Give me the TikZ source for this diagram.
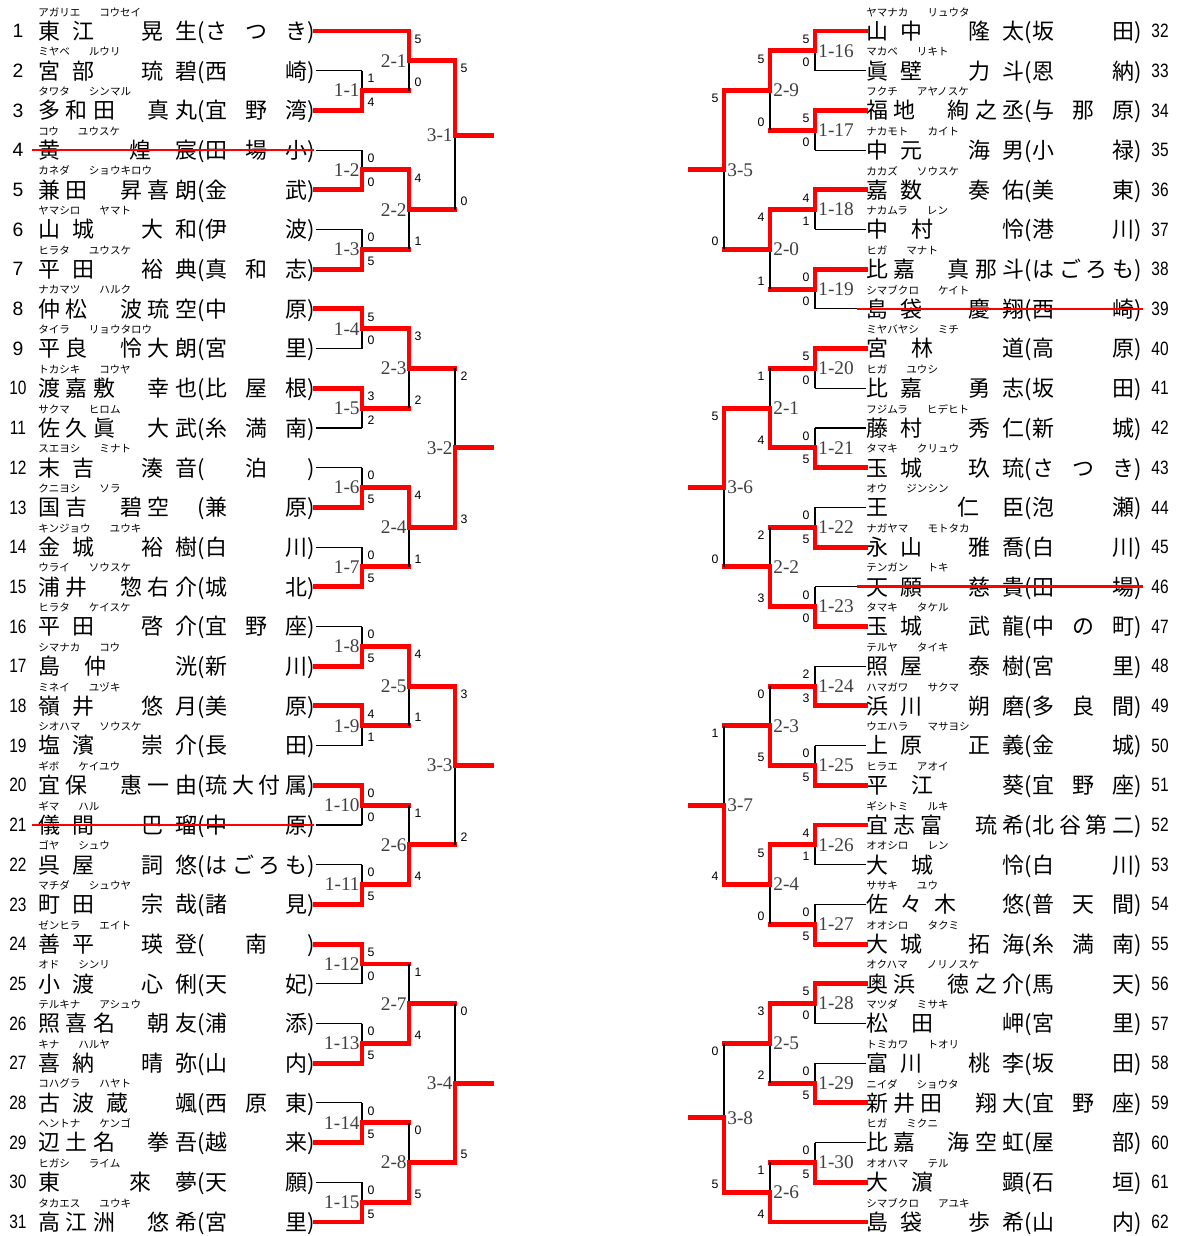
\documentclass[tikz,border=0pt]{standalone}
\usepackage{fontspec}
\usepackage{graphicx}
\setmainfont{Liberation Serif}
\newfontfamily\jpfont{Noto Sans CJK JP}
\newfontfamily\numfont{Liberation Sans}

\newdimen\pix \pix=0.02cm
% spread a row of characters evenly over a fixed width
\def\spreadfirst#1{#1\spreadrest}
\def\spreadrest#1{\ifx\relax#1\else\hfil#1\expandafter\spreadrest\fi}
\newcommand\spreadchars[2]{\hbox to #1\pix{\spreadfirst#2\relax}}
\newcommand\halfpar[1]{\hbox to 8\pix{\hss#1\hss}}
\newcommand\numbox[1]{\ifnum#1>9 \scalebox{0.8}[1]{#1}\else #1\fi}

% one entry: number, kana surname, kana given name, name, school
\newcommand\lplayer[5]{%
  \pgfmathsetmacro\yy{31+(#1-1)*39.7}
  \node[num] (n#1) at (18,\yy) {\numbox{#1}};
  \node[kana] (k#1) at (38,\yy-19) {#2\hspace{1.8em}#3};
  \node[entry] (p#1) at (38,\yy) {\spreadchars{159}{#4}\halfpar{(}\spreadchars{102}{#5}\halfpar{)}};
  \coordinate (e#1) at (p#1.east);
}
\newcommand\rplayer[5]{%
  \pgfmathsetmacro\yy{31+(#1-32)*39.7}
  \node[num] (n#1) at (1160,\yy) {\numbox{#1}};
  \node[kana] (k#1) at (866,\yy-19) {#2\hspace{1.8em}#3};
  \node[entry] (p#1) at (866,\yy) {\spreadchars{158}{#4}\halfpar{(}\spreadchars{102}{#5}\halfpar{)}};
  \coordinate (e#1) at (p#1.west);
}

% side settings: score offset, label offset, label anchor
\newcommand\sideL{\def\sx{9}\def\lx{-2}\def\lab{east}}
\newcommand\sideR{\def\sx{-9}\def\lx{3}\def\lab{west}}

% match: coord, label, top in, bottom in, top score, bottom score, winner t/b, style of loser's line
\newcommand\matchup[8]{%
  \if#7t\def\bw{#3}\def\bl{#4}\else\def\bw{#4}\def\bl{#3}\fi
  \draw[#8] (\bl) -- (\bl -| #1);
  \draw[lose] (\bl -| #1) -- (#1);
  \draw[win] (\bw) -| (#1);
  \path (#3 -| #1) ++(\sx,8) node[score] (s#1t) {#5};
  \path (#4 -| #1) ++(\sx,-8) node[score] (s#1b) {#6};
  \path (#1) ++(\lx,0) node[mlabel,anchor=\lab] (l#1) {#2};
}

\begin{document}
\begin{tikzpicture}[
    x=0.02cm, y=-0.02cm,
    num/.style={font=\numfont\fontsize{11pt}{11pt}\selectfont, inner sep=0pt},
    kana/.style={font=\jpfont\fontsize{6pt}{6pt}\selectfont, anchor=west, inner sep=0pt},
    entry/.style={font=\jpfont\fontsize{12.5pt}{12.5pt}\selectfont, anchor=west, inner sep=0pt, text height=10.5pt, text depth=1pt},
    score/.style={font=\numfont\fontsize{7pt}{7pt}\selectfont, inner sep=0pt},
    mlabel/.style={font=\fontsize{11pt}{11pt}\selectfont, inner sep=0pt, text=black!75},
    win/.style={draw=red, line width=2.8pt, line cap=rect},
    lose/.style={draw=black, line width=0.6pt},
    strike/.style={draw=red, line width=1.5pt}
  ]
  \useasboundingbox (0,0) rectangle (1178,1236);

  % entries, left block
  \lplayer{1}{アガリエ}{コウセイ}{東江　晃生}{さつき}
  \lplayer{2}{ミヤベ}{ルウリ}{宮部　琉碧}{西崎}
  \lplayer{3}{タワタ}{シンマル}{多和田　真丸}{宜野湾}
  \lplayer{4}{コウ}{ユウスケ}{黄　煌宸}{田場小}
  \lplayer{5}{カネダ}{ショウキロウ}{兼田　昇喜朗}{金武}
  \lplayer{6}{ヤマシロ}{ヤマト}{山城　大和}{伊波}
  \lplayer{7}{ヒラタ}{ユウスケ}{平田　裕典}{真和志}
  \lplayer{8}{ナカマツ}{ハルク}{仲松　波琉空}{中原}
  \lplayer{9}{タイラ}{リョウタロウ}{平良　怜大朗}{宮里}
  \lplayer{10}{トカシキ}{コウヤ}{渡嘉敷　幸也}{比屋根}
  \lplayer{11}{サクマ}{ヒロム}{佐久眞　大武}{糸満南}
  \lplayer{12}{スエヨシ}{ミナト}{末吉　湊音}{　泊　}
  \lplayer{13}{クニヨシ}{ソラ}{国吉　碧空　}{兼原}
  \lplayer{14}{キンジョウ}{ユウキ}{金城　裕樹}{白川}
  \lplayer{15}{ウライ}{ソウスケ}{浦井　惣右介}{城北}
  \lplayer{16}{ヒラタ}{ケイスケ}{平田　啓介}{宜野座}
  \lplayer{17}{シマナカ}{コウ}{島仲　洸}{新川}
  \lplayer{18}{ミネイ}{ユヅキ}{嶺井　悠月}{美原}
  \lplayer{19}{シオハマ}{ソウスケ}{塩濱　崇介}{長田}
  \lplayer{20}{ギボ}{ケイユウ}{宜保　惠一由}{琉大付属}
  \lplayer{21}{ギマ}{ハル}{儀間　巴瑠}{中原}
  \lplayer{22}{ゴヤ}{シュウ}{呉屋　詞悠}{はごろも}
  \lplayer{23}{マチダ}{シュウヤ}{町田　宗哉}{諸見}
  \lplayer{24}{ゼンヒラ}{エイト}{善平　瑛登}{　南　}
  \lplayer{25}{オド}{シンリ}{小渡　心俐}{天妃}
  \lplayer{26}{テルキナ}{アシュウ}{照喜名　朝友}{浦添}
  \lplayer{27}{キナ}{ハルヤ}{喜納　晴弥}{山内}
  \lplayer{28}{コハグラ}{ハヤト}{古波蔵　颯}{西原東}
  \lplayer{29}{ヘントナ}{ケンゴ}{辺土名　拳吾}{越来}
  \lplayer{30}{ヒガシ}{ライム}{東　來夢}{天願}
  \lplayer{31}{タカエス}{ユウキ}{高江洲　悠希}{宮里}

  % entries, right block
  \rplayer{32}{ヤマナカ}{リュウタ}{山中　隆太}{坂田}
  \rplayer{33}{マカベ}{リキト}{眞壁　力斗}{恩納}
  \rplayer{34}{フクチ}{アヤノスケ}{福地　絢之丞}{与那原}
  \rplayer{35}{ナカモト}{カイト}{中元　海男}{小禄}
  \rplayer{36}{カカズ}{ソウスケ}{嘉数　奏佑}{美東}
  \rplayer{37}{ナカムラ}{レン}{中村　怜}{港川}
  \rplayer{38}{ヒガ}{マナト}{比嘉　真那斗}{はごろも}
  \rplayer{39}{シマブクロ}{ケイト}{島袋　慶翔}{西崎}
  \rplayer{40}{ミヤバヤシ}{ミチ}{宮林　道}{高原}
  \rplayer{41}{ヒガ}{ユウシ}{比嘉　勇志}{坂田}
  \rplayer{42}{フジムラ}{ヒデヒト}{藤村　秀仁}{新城}
  \rplayer{43}{タマキ}{クリュウ}{玉城　玖琉}{さつき}
  \rplayer{44}{オウ}{ジンシン}{王　仁臣}{泡瀬}
  \rplayer{45}{ナガヤマ}{モトタカ}{永山　雅喬}{白川}
  \rplayer{46}{テンガン}{トキ}{天願　慈貴}{田場}
  \rplayer{47}{タマキ}{タケル}{玉城　武龍}{中の町}
  \rplayer{48}{テルヤ}{タイキ}{照屋　泰樹}{宮里}
  \rplayer{49}{ハマガワ}{サクマ}{浜川　朔磨}{多良間}
  \rplayer{50}{ウエハラ}{マサヨシ}{上原　正義}{金城}
  \rplayer{51}{ヒラエ}{アオイ}{平江　葵}{宜野座}
  \rplayer{52}{ギシトミ}{ルキ}{宜志富　琉希}{北谷第二}
  \rplayer{53}{オオシロ}{レン}{大城　怜}{白川}
  \rplayer{54}{ササキ}{ユウ}{佐々木　悠}{普天間}
  \rplayer{55}{オオシロ}{タクミ}{大城　拓海}{糸満南}
  \rplayer{56}{オクハマ}{ノリノスケ}{奥浜　徳之介}{馬天}
  \rplayer{57}{マツダ}{ミサキ}{松田　岬}{宮里}
  \rplayer{58}{トミカワ}{トオリ}{富川　桃李}{坂田}
  \rplayer{59}{ニイダ}{ショウタ}{新井田　翔大}{宜野座}
  \rplayer{60}{ヒガ}{ミクニ}{比嘉　海空虹}{屋部}
  \rplayer{61}{オオハマ}{テル}{大濵　顕}{石垣}
  \rplayer{62}{シマブクロ}{アユキ}{島袋　歩希}{山内}

  % match points
  \coordinate (m1-1) at (362,90.55);   \coordinate (m1-2) at (362,169.95);
  \coordinate (m1-3) at (362,249.35);  \coordinate (m1-4) at (362,328.75);
  \coordinate (m1-5) at (362,408.15);  \coordinate (m1-6) at (362,487.55);
  \coordinate (m1-7) at (362,566.95);  \coordinate (m1-8) at (362,646.35);
  \coordinate (m1-9) at (362,725.75);  \coordinate (m1-10) at (362,805.15);
  \coordinate (m1-11) at (362,884.55); \coordinate (m1-12) at (362,963.95);
  \coordinate (m1-13) at (362,1043.35); \coordinate (m1-14) at (362,1122.75);
  \coordinate (m1-15) at (362,1202.15);
  \coordinate (m2-1) at (409,60.78);   \coordinate (m2-2) at (409,209.65);
  \coordinate (m2-3) at (409,368.45);  \coordinate (m2-4) at (409,527.25);
  \coordinate (m2-5) at (409,686.05);  \coordinate (m2-6) at (409,844.85);
  \coordinate (m2-7) at (409,1003.65); \coordinate (m2-8) at (409,1162.45);
  \coordinate (m3-1) at (455,135.21);  \coordinate (m3-2) at (455,447.85);
  \coordinate (m3-3) at (455,765.45);  \coordinate (m3-4) at (455,1083.05);
  \coordinate (endL) at (492,0);

  \coordinate (m1-16) at (815,50.85);  \coordinate (m1-17) at (815,130.25);
  \coordinate (m1-18) at (815,209.65); \coordinate (m1-19) at (815,289.05);
  \coordinate (m1-20) at (815,368.45); \coordinate (m1-21) at (815,447.85);
  \coordinate (m1-22) at (815,527.25); \coordinate (m1-23) at (815,606.65);
  \coordinate (m1-24) at (815,686.05); \coordinate (m1-25) at (815,765.45);
  \coordinate (m1-26) at (815,844.85); \coordinate (m1-27) at (815,924.25);
  \coordinate (m1-28) at (815,1003.65); \coordinate (m1-29) at (815,1083.05);
  \coordinate (m1-30) at (815,1162.45);
  \coordinate (m2-9) at (770,90.55);   \coordinate (m2-10) at (770,249.35);
  \coordinate (m2-11) at (770,408.15); \coordinate (m2-12) at (770,566.95);
  \coordinate (m2-13) at (770,725.75); \coordinate (m2-14) at (770,884.55);
  \coordinate (m2-15) at (770,1043.35); \coordinate (m2-16) at (770,1192.23);
  \coordinate (m3-5) at (724,169.95);  \coordinate (m3-6) at (724,487.55);
  \coordinate (m3-7) at (724,805.15);  \coordinate (m3-8) at (724,1117.79);
  \coordinate (endR) at (690,0);

  % left bracket
  \sideL
  \matchup{m1-1}{1-1}{e2}{e3}{1}{4}{b}{lose}
  \matchup{m1-2}{1-2}{e4}{e5}{0}{0}{b}{lose}
  \matchup{m1-3}{1-3}{e6}{e7}{0}{5}{b}{lose}
  \matchup{m2-1}{2-1}{e1}{m1-1}{5}{0}{t}{win}
  \matchup{m2-2}{2-2}{m1-2}{m1-3}{4}{1}{t}{win}
  \matchup{m3-1}{3-1}{m2-1}{m2-2}{5}{0}{t}{win}
  \matchup{m1-4}{1-4}{e8}{e9}{5}{0}{t}{lose}
  \matchup{m1-5}{1-5}{e10}{e11}{3}{2}{t}{lose}
  \matchup{m1-6}{1-6}{e12}{e13}{0}{5}{b}{lose}
  \matchup{m1-7}{1-7}{e14}{e15}{0}{5}{b}{lose}
  \matchup{m2-3}{2-3}{m1-4}{m1-5}{3}{2}{t}{win}
  \matchup{m2-4}{2-4}{m1-6}{m1-7}{4}{1}{t}{win}
  \matchup{m3-2}{3-2}{m2-3}{m2-4}{2}{3}{b}{win}
  \matchup{m1-8}{1-8}{e16}{e17}{0}{5}{b}{lose}
  \matchup{m1-9}{1-9}{e18}{e19}{4}{1}{t}{lose}
  \matchup{m1-10}{1-10}{e20}{e21}{0}{0}{t}{lose}
  \matchup{m1-11}{1-11}{e22}{e23}{0}{5}{b}{lose}
  \matchup{m2-5}{2-5}{m1-8}{m1-9}{4}{1}{t}{win}
  \matchup{m2-6}{2-6}{m1-10}{m1-11}{1}{4}{b}{win}
  \matchup{m3-3}{3-3}{m2-5}{m2-6}{3}{2}{t}{win}
  \matchup{m1-12}{1-12}{e24}{e25}{5}{0}{t}{lose}
  \matchup{m1-13}{1-13}{e26}{e27}{0}{5}{b}{lose}
  \matchup{m1-14}{1-14}{e28}{e29}{0}{5}{b}{lose}
  \matchup{m1-15}{1-15}{e30}{e31}{0}{5}{b}{lose}
  \matchup{m2-7}{2-7}{m1-12}{m1-13}{1}{4}{b}{win}
  \matchup{m2-8}{2-8}{m1-14}{m1-15}{0}{5}{b}{win}
  \matchup{m3-4}{3-4}{m2-7}{m2-8}{0}{5}{b}{win}
  \draw[win] (m3-1) -- (m3-1 -| endL);
  \draw[win] (m3-2) -- (m3-2 -| endL);
  \draw[win] (m3-3) -- (m3-3 -| endL);
  \draw[win] (m3-4) -- (m3-4 -| endL);

  % right bracket
  \sideR
  \matchup{m1-16}{1-16}{e32}{e33}{5}{0}{t}{lose}
  \matchup{m1-17}{1-17}{e34}{e35}{5}{0}{t}{lose}
  \matchup{m1-18}{1-18}{e36}{e37}{4}{1}{t}{lose}
  \matchup{m1-19}{1-19}{e38}{e39}{0}{0}{t}{lose}
  \matchup{m2-9}{2-9}{m1-16}{m1-17}{5}{0}{t}{win}
  \matchup{m2-10}{2-0}{m1-18}{m1-19}{4}{1}{t}{win}
  \matchup{m3-5}{3-5}{m2-9}{m2-10}{5}{0}{t}{win}
  \matchup{m1-20}{1-20}{e40}{e41}{5}{0}{t}{lose}
  \matchup{m1-21}{1-21}{e42}{e43}{0}{5}{b}{lose}
  \matchup{m1-22}{1-22}{e44}{e45}{0}{5}{b}{lose}
  \matchup{m1-23}{1-23}{e46}{e47}{0}{0}{b}{lose}
  \matchup{m2-11}{2-1}{m1-20}{m1-21}{1}{4}{b}{win}
  \matchup{m2-12}{2-2}{m1-22}{m1-23}{2}{3}{b}{win}
  \matchup{m3-6}{3-6}{m2-11}{m2-12}{5}{0}{t}{win}
  \matchup{m1-24}{1-24}{e48}{e49}{2}{3}{b}{lose}
  \matchup{m1-25}{1-25}{e50}{e51}{0}{5}{b}{lose}
  \matchup{m1-26}{1-26}{e52}{e53}{4}{1}{t}{lose}
  \matchup{m1-27}{1-27}{e54}{e55}{0}{5}{b}{lose}
  \matchup{m2-13}{2-3}{m1-24}{m1-25}{0}{5}{b}{win}
  \matchup{m2-14}{2-4}{m1-26}{m1-27}{5}{0}{t}{win}
  \matchup{m3-7}{3-7}{m2-13}{m2-14}{1}{4}{b}{win}
  \matchup{m1-28}{1-28}{e56}{e57}{5}{0}{t}{lose}
  \matchup{m1-29}{1-29}{e58}{e59}{0}{5}{b}{lose}
  \matchup{m1-30}{1-30}{e60}{e61}{0}{5}{b}{lose}
  \matchup{m2-15}{2-5}{m1-28}{m1-29}{3}{2}{t}{win}
  \matchup{m2-16}{2-6}{m1-30}{e62}{1}{4}{b}{win}
  \matchup{m3-8}{3-8}{m2-15}{m2-16}{0}{5}{b}{win}
  \draw[win] (m3-5) -- (m3-5 -| endR);
  \draw[win] (m3-6) -- (m3-6 -| endR);
  \draw[win] (m3-7) -- (m3-7 -| endR);
  \draw[win] (m3-8) -- (m3-8 -| endR);

  % withdrawn entries
  \draw[strike] ([xshift=-0.12cm]p4.west) -- ([xshift=-0.04cm]p4.east);
  \draw[strike] ([xshift=-0.12cm]p21.west) -- ([xshift=-0.04cm]p21.east);
  \draw[strike] ([xshift=-0.18cm]p39.west) -- (p39.east);
  \draw[strike] ([xshift=-0.18cm]p46.west) -- (p46.east);
\end{tikzpicture}
\end{document}
